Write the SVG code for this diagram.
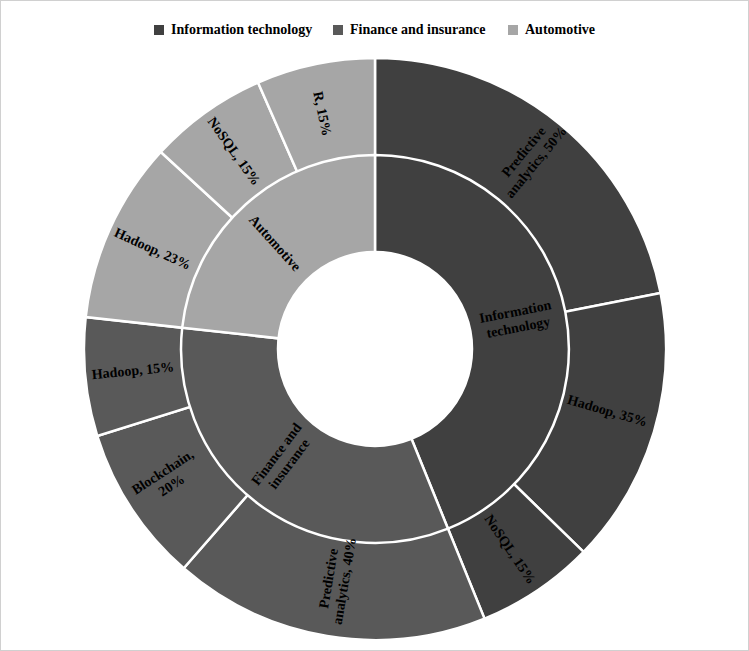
<svg xmlns="http://www.w3.org/2000/svg" width="749" height="651" viewBox="0 0 749 651">
<style>
.s{stroke:#fff;stroke-width:2.5}
.it{fill:#404040}.fi{fill:#595959}.au{fill:#a6a6a6}
text{font-family:"Liberation Serif","Times New Roman",serif;font-weight:bold;font-size:14px;fill:#000;text-anchor:middle;dominant-baseline:middle}
.lg{text-anchor:start;font-size:14px}
</style>
<rect x="0.5" y="0.5" width="748" height="650" fill="#fff" stroke="#d0d0d0"/>
<g id="legend">
<rect x="154" y="25" width="10" height="10" class="it"/><text class="lg" x="171" y="31">Information technology</text>
<rect x="333" y="25" width="10" height="10" class="fi"/><text class="lg" x="350" y="31">Finance and insurance</text>
<rect x="508" y="25" width="10" height="10" class="au"/><text class="lg" x="525" y="31">Automotive</text>
</g>
<g id="outer">
<path class="s it" d="M375,349 L375,58 A291,291 0 0 1 660.6,293 Z"/>
<path class="s it" d="M375,349 L660.6,293 A291,291 0 0 1 583.6,551.9 Z"/>
<path class="s it" d="M375,349 L583.6,551.9 A291,291 0 0 1 484.5,618.6 Z"/>
<path class="s fi" d="M375,349 L484.5,618.6 A291,291 0 0 1 183.7,568.3 Z"/>
<path class="s fi" d="M375,349 L183.7,568.3 A291,291 0 0 1 97.3,436 Z"/>
<path class="s fi" d="M375,349 L97.3,436 A291,291 0 0 1 85.7,317.1 Z"/>
<path class="s au" d="M375,349 L85.7,317.1 A291,291 0 0 1 160.8,152 Z"/>
<path class="s au" d="M375,349 L160.8,152 A291,291 0 0 1 258,82.5 Z"/>
<path class="s au" d="M375,349 L258,82.5 A291,291 0 0 1 375,58 Z"/>
</g>
<g id="inner">
<path class="s it" d="M375,349 L375,155 A194,194 0 0 1 448,528.7 Z"/>
<path class="s fi" d="M375,349 L448,528.7 A194,194 0 0 1 182.2,327.7 Z"/>
<path class="s au" d="M375,349 L182.2,327.7 A194,194 0 0 1 375,155 Z"/>
<circle cx="375" cy="349" r="97" fill="#fff" stroke="#fff" stroke-width="2.5"/>
</g>
<g id="labels">
<text transform="translate(517,321) rotate(-11)"><tspan x="0" dy="-8">Information</tspan><tspan x="0" dy="16">technology</tspan></text>
<text transform="translate(284,460) rotate(-53)"><tspan x="0" dy="-8">Finance and</tspan><tspan x="0" dy="16">insurance</tspan></text>
<text transform="translate(274,244) rotate(48)">Automotive</text>
<text transform="translate(531,158) rotate(-50.5)"><tspan x="0" dy="-8">Predictive</tspan><tspan x="0" dy="16">analytics, 50%</tspan></text>
<text transform="translate(607,412) rotate(16.5)">Hadoop, 35%</text>
<text transform="translate(509,550) rotate(56)">NoSQL, 15%</text>
<text transform="translate(338,580) rotate(-80.5)"><tspan x="0" dy="-8">Predictive</tspan><tspan x="0" dy="16">analytics, 40%</tspan></text>
<text transform="translate(168,480) rotate(-33.2)"><tspan x="0" dy="-8">Blockchain,</tspan><tspan x="0" dy="16">20%</tspan></text>
<text transform="translate(133,372) rotate(-5.5)">Hadoop, 15%</text>
<text transform="translate(152,250) rotate(24.5)">Hadoop, 23%</text>
<text transform="translate(233,152) rotate(54.5)">NoSQL, 15%</text>
<text transform="translate(321,114) rotate(78)">R, 15%</text>
</g>
</svg>
